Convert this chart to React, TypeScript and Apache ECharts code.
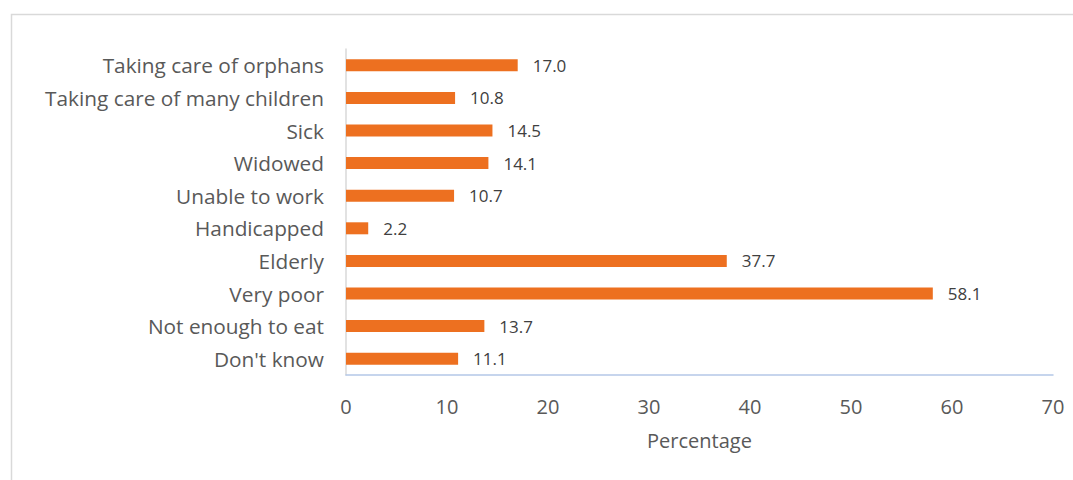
import React, { useEffect, useRef } from "react";
import * as echarts from "echarts";

const categories = [
  "Don't know",
  "Not enough to eat",
  "Very poor",
  "Elderly",
  "Handicapped",
  "Unable to work",
  "Widowed",
  "Sick",
  "Taking care of many children",
  "Taking care of orphans",
];
const values = [11.1, 13.7, 58.1, 37.7, 2.2, 10.7, 14.1, 14.5, 10.8, 17.0];
const xTitle = "Percentage";

const FONT = "'Open Sans', 'Noto Sans', sans-serif";

export default function App() {
  const ref = useRef<HTMLDivElement>(null);
  useEffect(() => {
    const chart = echarts.init(ref.current!, undefined, { renderer: "svg" });
    chart.setOption({
      animation: false,
      backgroundColor: "#ffffff",
      textStyle: { fontFamily: FONT },
      graphic: [
        {
          type: "rect",
          shape: { x: 11.5, y: 14.5, width: 1100, height: 500 },
          style: { fill: "none", stroke: "#d9d9d9", lineWidth: 1.5 },
          silent: true,
        },
      ],
      grid: { left: 346, right: 20, top: 49, bottom: 105, containLabel: false },
      xAxis: {
        type: "value",
        min: 0,
        max: 70,
        interval: 10,
        name: xTitle,
        nameLocation: "middle",
        nameGap: 55,
        nameTextStyle: { fontSize: 20, color: "#595959", fontFamily: FONT },
        axisLine: { show: true, lineStyle: { color: "#b4c7e7", width: 1.5 } },
        axisTick: { show: false },
        splitLine: { show: false },
        axisLabel: { fontSize: 20, color: "#595959", margin: 21, fontFamily: FONT },
      },
      yAxis: {
        type: "category",
        data: categories,
        axisLine: { show: true, lineStyle: { color: "#d9d9d9", width: 1.5 } },
        axisTick: { show: false },
        axisLabel: { fontSize: 20.8, color: "#595959", margin: 22, fontFamily: FONT },
      },
      series: [
        {
          type: "bar",
          data: values,
          barWidth: 12,
          itemStyle: { color: "#ed7020" },
          label: {
            show: true,
            position: "right",
            distance: 15,
            formatter: (p: any) => Number(p.value).toFixed(1),
            fontSize: 17,
            color: "#404040",
            fontFamily: FONT,
          },
        },
      ],
    });
    return () => chart.dispose();
  }, []);
  return (
    <div
      ref={ref}
      style={{ position: "absolute", left: 0, top: 0, width: 1073, height: 480 }}
    />
  );
}
